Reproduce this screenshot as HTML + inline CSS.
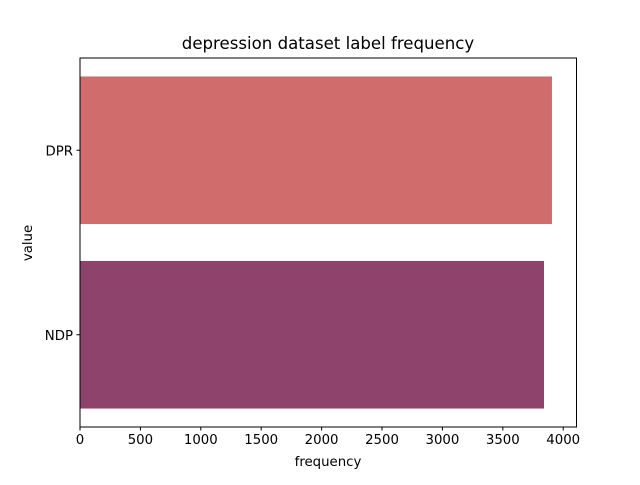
<!DOCTYPE html>
<html><head><meta charset="utf-8"><style>
body{margin:0;background:#fff}
svg text{font-family:"DejaVu Sans","Liberation Sans",sans-serif;font-size:13.3px;fill:#000}
</style></head><body>
<svg width="640" height="480">
<text x="328" y="49" text-anchor="middle" style="font-size:16.6px">depression dataset label frequency</text>
<g id="plot"></g>
<rect x="80" y="58" width="496.5" height="369" fill="none" stroke="#000" stroke-width="1"/>
<text x="328" y="466" text-anchor="middle">frequency</text>
<text transform="translate(32,243) rotate(-90)" text-anchor="middle">value</text>
</svg>
<script>
const categories=["DPR","NDP"];
const values=[3907,3841];
const colors=["#d06d6c","#8e436d"];
const xTicks=[0,500,1000,1500,2000,2500,3000,3500,4000];
const X0=80,X1=576.5,Y0=58,Y1=427,XMAX=4110;
const x=v=>X0+v/XMAX*(X1-X0);
const band=(Y1-Y0)/categories.length;
const y=i=>Y0+band*(i+0.5);
const g=document.getElementById('plot');
const NS="http://www.w3.org/2000/svg";
categories.forEach((c,i)=>{
 const r=document.createElementNS(NS,'rect');
 
 
 r.setAttribute('x',X0);r.setAttribute('y',y(i)-band*0.4);
 r.setAttribute('width',x(values[i])-X0);r.setAttribute('height',band*0.8);
 r.setAttribute('fill',colors[i]);g.appendChild(r);
 const t=document.createElementNS(NS,'line');
 
 
 t.setAttribute('x1',X0-3.5);t.setAttribute('x2',X0);t.setAttribute('y1',y(i));t.setAttribute('y2',y(i));t.setAttribute('stroke','#000');g.appendChild(t);
 const l=document.createElementNS(NS,'text');
 
 
 l.setAttribute('x',X0-7);l.setAttribute('y',y(i)+5);l.setAttribute('text-anchor','end');l.textContent=c;g.appendChild(l);
});
xTicks.forEach(v=>{
 const t=document.createElementNS(NS,'line');
 
 
 t.setAttribute('x1',x(v));t.setAttribute('x2',x(v));t.setAttribute('y1',Y1);t.setAttribute('y2',Y1+3.5);t.setAttribute('stroke','#000');g.appendChild(t);
 const l=document.createElementNS(NS,'text');
 
 
 l.setAttribute('x',x(v));l.setAttribute('y',Y1+17);l.setAttribute('text-anchor','middle');l.textContent=v;g.appendChild(l);
});
</script>
</body></html>
